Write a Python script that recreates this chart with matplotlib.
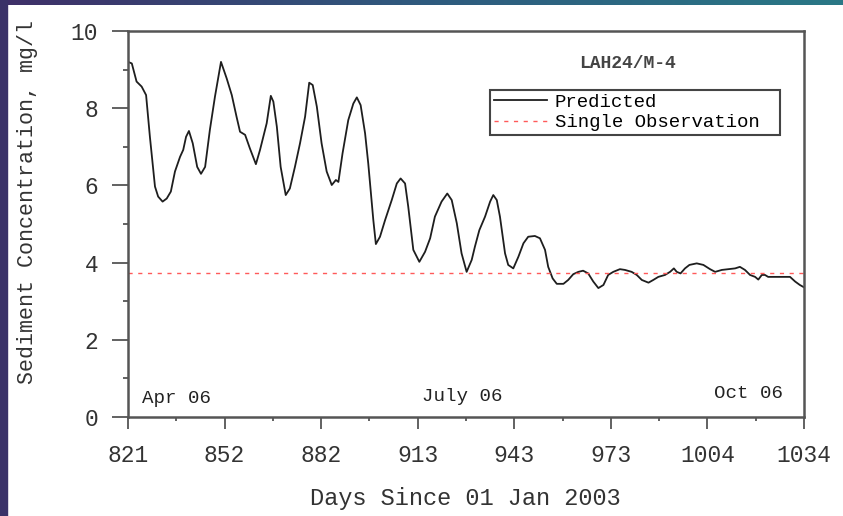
import numpy as np
import matplotlib
matplotlib.use("Agg")
from matplotlib import pyplot as plt
from matplotlib.colors import LinearSegmentedColormap
from matplotlib.patches import Rectangle

# predicted sediment concentration
days = [821.0, 822.2, 823.7, 825.3, 826.7, 827.9, 829.5, 830.5, 831.9, 833.2,
        834.5, 835.8, 837.4, 838.4, 839.3, 840.2, 841.4, 842.8, 844.0, 845.3,
        846.8, 848.4, 850.3, 852.1, 853.7, 855.2, 856.3, 857.9, 859.4, 861.3,
        862.6, 863.9, 864.7, 866.0, 866.8, 867.9, 869.1, 870.7, 872.0, 873.6,
        875.2, 876.8, 878.1, 879.2, 880.5, 882.0, 883.6, 885.2, 886.5, 887.3,
        888.6, 890.4, 892.0, 893.1, 894.3, 895.7, 896.7, 898.3, 899.1, 900.4,
        902.0, 904.1, 905.7, 906.9, 908.3, 909.3, 910.9, 912.8, 914.6, 916.2,
        917.7, 919.8, 921.6, 923.0, 924.6, 926.1, 927.7, 929.3, 930.3, 931.7,
        933.5, 935.1, 936.1, 937.2, 938.2, 939.8, 940.8, 942.4, 944.0, 945.6,
        947.1, 949.2, 950.8, 952.4, 953.4, 954.8, 956.1, 958.2, 959.7, 961.3,
        962.9, 964.4, 966.0, 967.6, 969.2, 970.8, 972.3, 973.9, 976.0, 977.6,
        979.7, 981.3, 982.9, 985.0, 986.5, 988.1, 990.2, 991.8, 993.0, 993.9,
        995.1, 996.5, 997.9, 1000.2, 1002.3, 1004.4, 1006.0, 1008.1, 1010.1, 1012.3,
        1013.8, 1015.4, 1017.0, 1018.6, 1019.6, 1020.7, 1021.7, 1022.7, 1026.4, 1029.6,
        1031.2, 1032.7, 1034.0]
predicted = [9.20, 9.16, 8.69, 8.56, 8.34, 7.26, 5.97, 5.71, 5.58, 5.66,
             5.84, 6.36, 6.74, 6.92, 7.26, 7.41, 7.09, 6.48, 6.30, 6.48,
             7.44, 8.30, 9.20, 8.77, 8.34, 7.78, 7.39, 7.31, 6.96, 6.55,
             6.92, 7.35, 7.61, 8.32, 8.17, 7.52, 6.48, 5.75, 5.92, 6.48,
             7.09, 7.78, 8.66, 8.60, 8.04, 7.09, 6.36, 6.01, 6.14, 6.09,
             6.83, 7.69, 8.12, 8.28, 8.08, 7.35, 6.57, 5.10, 4.48, 4.67,
             5.10, 5.62, 6.05, 6.18, 6.05, 5.45, 4.33, 4.02, 4.28, 4.63,
             5.19, 5.58, 5.79, 5.62, 5.02, 4.24, 3.76, 4.07, 4.41, 4.84,
             5.19, 5.58, 5.75, 5.62, 5.19, 4.24, 3.94, 3.85, 4.15, 4.50,
             4.67, 4.69, 4.63, 4.33, 3.89, 3.59, 3.45, 3.45, 3.55, 3.70,
             3.76, 3.79, 3.72, 3.51, 3.34, 3.42, 3.68, 3.76, 3.83, 3.81,
             3.76, 3.68, 3.55, 3.48, 3.55, 3.63, 3.68, 3.76, 3.85, 3.76,
             3.72, 3.85, 3.94, 3.98, 3.94, 3.83, 3.76, 3.81, 3.83, 3.85,
             3.89, 3.81, 3.68, 3.63, 3.56, 3.68, 3.68, 3.63, 3.63, 3.63,
             3.51, 3.42, 3.36]
observation = 3.72

x_ticks = np.linspace(821, 1034, 8)
x_labels = ["821", "852", "882", "913", "943", "973", "1004", "1034"]
y_ticks = [0, 2, 4, 6, 8, 10]

month_labels = ["Apr 06", "July 06", "Oct 06"]
month_pos = [(825.4, 0.49), (913.6, 0.54), (1005.6, 0.62)]

mono = "Liberation Mono"
plt.rcParams["font.family"] = [mono, "DejaVu Sans Mono"]

fig = plt.figure(figsize=(8.43, 5.16), dpi=100)

# slide background bits
fig.patches.append(Rectangle((0, 0), 7 / 843, 1, transform=fig.transFigure,
                             color="#3a3268", zorder=0))
bar = fig.add_axes([0, 1 - 5 / 516, 1, 5 / 516])
cmap = LinearSegmentedColormap.from_list("band", ["#3f2f68", "#2f5a7e", "#2a7886"])
bar.imshow(np.linspace(0, 1, 256)[None, :], aspect="auto", cmap=cmap)
bar.axis("off")

ax = fig.add_axes([128 / 843, 1 - 417 / 516, 676 / 843, 386 / 516])
ax.plot(days, predicted, color="#1e1e1e", lw=1.3, solid_joinstyle="round",
        label="Predicted")
ax.axhline(observation, color="#ff5a5a", lw=1.0, ls=(0, (3, 4)),
           label="Single Observation")

ax.set_xlim(821, 1034)
ax.set_ylim(0, 10)
ax.set_xticks(x_ticks)
ax.set_xticklabels(x_labels)
ax.set_xticks((x_ticks[:-1] + x_ticks[1:]) / 2, minor=True)
ax.set_yticks(y_ticks)
ax.set_yticks(np.arange(1, 10, 2), minor=True)

ax.tick_params(axis="both", which="both", direction="out", color="#555555",
               labelcolor="#333333", labelsize=16.5, width=1.3)
ax.tick_params(axis="y", which="major", length=11.5, pad=10)
ax.tick_params(axis="y", which="minor", length=3.6)
ax.tick_params(axis="x", which="major", length=8.6, pad=11)
ax.tick_params(axis="x", which="minor", length=3)
for sp in ax.spines.values():
    sp.set_color("#555555")
    sp.set_linewidth(1.8)

for lbl, (xp, yp) in zip(month_labels, month_pos):
    ax.text(xp, yp, lbl, fontsize=13.8, color="#222222", ha="left", va="center")

ax.text(978.5, 9.17, "LAH24/M-4", fontsize=13, fontweight="bold",
        color="#444444", ha="center", va="center")

leg = ax.legend(loc="upper left",
                bbox_to_anchor=((490 - 128) / 676, (417 - 90) / 386 - 0.2, 290 / 676, 0.2),
                mode="expand", borderaxespad=0, fontsize=13.7, fancybox=False,
                handlelength=2.8, handletextpad=0.4, borderpad=0.2,
                labelspacing=0.15, framealpha=1)
leg.get_frame().set_edgecolor("#444444")
leg.get_frame().set_linewidth(1.5)

fig.text(28 / 843, 1 - 202 / 516, "Sediment Concentration, mg/l", rotation=90,
         fontsize=15.6, color="#333333", ha="center", va="center")
fig.text(465 / 843, 1 - 498 / 516, "Days Since 01 Jan 2003",
         fontsize=17, color="#333333", ha="center", va="center")

fig.savefig("out.png", dpi=100)
